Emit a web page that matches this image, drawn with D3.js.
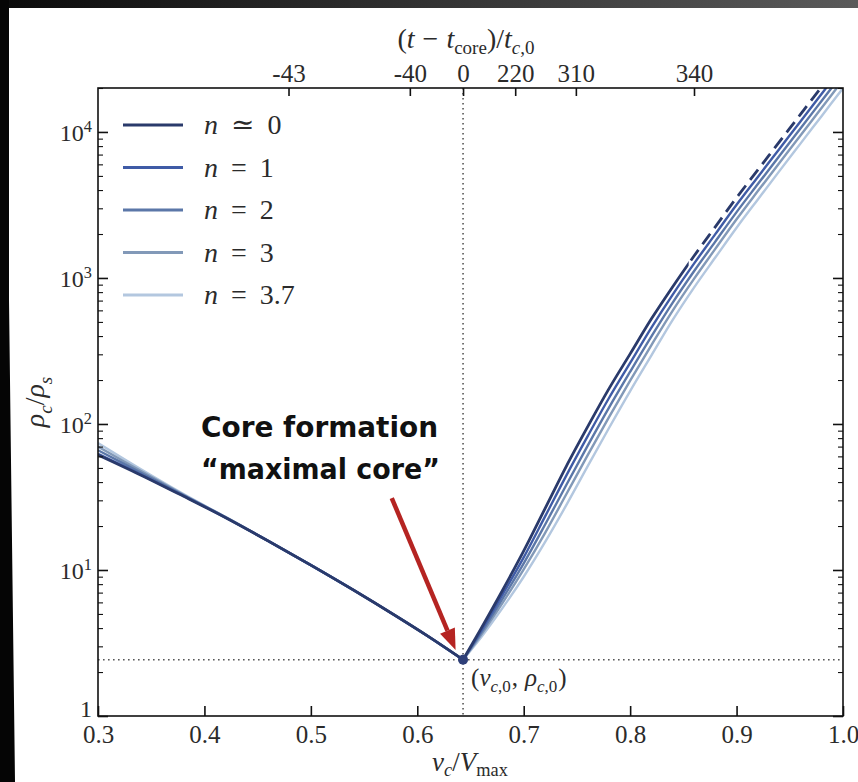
<!DOCTYPE html>
<html>
<head>
<meta charset="utf-8">
<script src="https://cdn.jsdelivr.net/npm/d3@7"></script>
<style>
  html, body { margin: 0; padding: 0; background: #fff; }
  svg { display: block; }
</style>
</head>
<body>
<svg id="chart" width="858" height="782"></svg>
<script>
// ---- data -------------------------------------------------------------
// core velocity v_c / V_max (left branch, core point, right branch)
const vGrid = [0.30, 0.34, 0.38, 0.42, 0.46, 0.50, 0.54, 0.58, 0.61, 0.643,
               0.66, 0.68, 0.70, 0.72, 0.74, 0.76, 0.78, 0.80, 0.82, 0.84,
               0.86, 0.88, 0.90, 0.92, 0.94, 0.96, 0.98, 1.00];

// central density rho_c / rho_s for each index n
const rhoN0  = [61.4, 44.8, 32.1, 22.8, 15.8, 10.8, 7.29, 4.84, 3.52, 2.43,
                3.98, 7.24, 13.5, 26.3, 51.3, 95.5, 174, 302, 525, 871,
                1413, 2239, 3548, 5495, 8511, 13183, 20417, 31623];
const rhoN1  = [62.5, 45.2, 32.3, 22.8, 15.8, 10.8, 7.29, 4.84, 3.52, 2.43,
                3.85, 6.78, 12.2, 23.2, 44.3, 82.2, 150, 262, 457, 769,
                1253, 1995, 3170, 4920, 7620, 11800, 18280, 28310];
const rhoN2  = [66.1, 46.5, 32.6, 22.9, 15.8, 10.8, 7.29, 4.84, 3.52, 2.43,
                3.72, 6.34, 11.1, 20.4, 38.2, 70.8, 129, 228, 398, 678,
                1112, 1774, 2825, 4395, 6823, 10570, 16370, 25350];
const rhoN3  = [70.0, 47.8, 32.9, 23.0, 15.8, 10.8, 7.29, 4.84, 3.52, 2.43,
                3.60, 5.93, 10.1, 17.9, 33.0, 61.0, 111, 198, 347, 598,
                986, 1581, 2523, 3936, 6109, 9462, 14660, 22700];
const rhoN37 = [74.0, 49.1, 33.2, 23.0, 15.8, 10.8, 7.29, 4.84, 3.52, 2.43,
                3.46, 5.48, 8.99, 15.5, 27.8, 51.2, 93.5, 168, 295, 516,
                859, 1380, 2208, 3451, 5370, 8318, 12880, 19950];

const seriesLabels = ["≃ 0", "= 1", "= 2", "= 3", "= 3.7"];
const seriesColors = ["#2a3a6b", "#3f5ba6", "#5b77a8", "#8299b8", "#b3c7df"];

// core-formation point
const coreV = 0.643;
const coreRho = 2.43;
// beyond this velocity the n ≃ 0 track is drawn dashed
const dashFromV = 0.855;

// axes
const xTicks = [0.3, 0.4, 0.5, 0.6, 0.7, 0.8, 0.9, 1.0];
const xTickLabels = ["0.3", "0.4", "0.5", "0.6", "0.7", "0.8", "0.9", "1.0"];
const topTickV = [0.479, 0.593, 0.643, 0.692, 0.749, 0.860];
const topTickLabels = ["-43", "-40", "0", "220", "310", "340"];
const yMajorTicks = [1, 10, 100, 1000, 10000];
const yTickExponents = ["0", "1", "2", "3", "4"];
const yDomain = [1, 20000];

// annotation arrow, in data coordinates [v, rho]
const arrowFrom = [0.576, 31.1];
const arrowTo = [0.636, 2.83];

// ---- layout -----------------------------------------------------------
const svg = d3.select("#chart");
const W = 858, H = 782;
const plot = { left: 98, right: 843, top: 88, bottom: 716 };
const serif = "'Liberation Serif', 'DejaVu Serif', serif";
const ink = "#2b2b2b";

const x = d3.scaleLinear().domain([0.3, 1.0]).range([plot.left, plot.right]);
const y = d3.scaleLog().domain(yDomain).range([plot.bottom, plot.top]);

// screen frame around the slide
const defs = svg.append("defs");
const grad = defs.append("linearGradient").attr("id", "topband")
  .attr("x1", "0").attr("x2", "1").attr("y1", "0").attr("y2", "0");
grad.append("stop").attr("offset", "0").attr("stop-color", "#0b0b0b");
grad.append("stop").attr("offset", "1").attr("stop-color", "#5a5a5a");
svg.append("rect").attr("x", 0).attr("y", 0).attr("width", W).attr("height", H).attr("fill", "#fff");
svg.append("rect").attr("x", 0).attr("y", 0).attr("width", W).attr("height", 8).attr("fill", "url(#topband)");
svg.append("path").attr("d", "M0,0 L9,0 L9,300 L15,782 L0,782 Z").attr("fill", "#050505");

defs.append("clipPath").attr("id", "plotclip").append("rect")
  .attr("x", plot.left).attr("y", plot.top)
  .attr("width", plot.right - plot.left).attr("height", plot.bottom - plot.top);

// rich text helper: parts = [{t, i (italic), sub, sup, dx}]
function rich(textSel, parts, size, subShift = 0.28) {
  let off = 0;
  parts.forEach(p => {
    const ts = textSel.append("tspan").text(p.t);
    if (p.i) ts.attr("font-style", "italic");
    let target = 0;
    if (p.sub) { target = size * subShift; ts.attr("font-size", size * 0.68); }
    if (p.sup) { target = -size * 0.4; ts.attr("font-size", size * 0.68); }
    if (target !== off) { ts.attr("dy", target - off); off = target; }
    if (p.dx) ts.attr("dx", p.dx);
  });
}

// ---- reference lines --------------------------------------------------
const dotted = { stroke: "#555", width: 1.6, dash: "1.6,3.4" };
svg.append("line")
  .attr("x1", x(coreV)).attr("x2", x(coreV))
  .attr("y1", plot.top).attr("y2", plot.bottom)
  .attr("stroke", dotted.stroke).attr("stroke-width", dotted.width)
  .attr("stroke-dasharray", dotted.dash);
svg.append("line")
  .attr("x1", plot.left).attr("x2", plot.right)
  .attr("y1", y(coreRho)).attr("y2", y(coreRho))
  .attr("stroke", dotted.stroke).attr("stroke-width", dotted.width)
  .attr("stroke-dasharray", dotted.dash);

// ---- curves -----------------------------------------------------------
const allRho = [rhoN0, rhoN1, rhoN2, rhoN3, rhoN37];
const line = d3.line().x(d => x(d.v)).y(d => y(d.r)).curve(d3.curveCatmullRom.alpha(0.5));
const gCurves = svg.append("g").attr("clip-path", "url(#plotclip)");

defs.append("clipPath").attr("id", "dashclip").append("rect")
  .attr("x", x(dashFromV)).attr("y", plot.top)
  .attr("width", plot.right - x(dashFromV)).attr("height", plot.bottom - plot.top);
defs.append("clipPath").attr("id", "solidclip").append("rect")
  .attr("x", plot.left).attr("y", plot.top)
  .attr("width", x(dashFromV) - plot.left).attr("height", plot.bottom - plot.top);

// lightest first so the darker tracks sit on top
for (let s = allRho.length - 1; s >= 0; s--) {
  const pts = vGrid.map((v, i) => ({ v, r: allRho[s][i] }));
  const left = pts.filter(d => d.v <= coreV);
  const right = pts.filter(d => d.v >= coreV);
  const sw = s === 0 ? 2.8 : 2.4;
  const draw = (data, clip, dash) => {
    const p = gCurves.append("path").attr("d", line(data))
      .attr("fill", "none").attr("stroke", seriesColors[s]).attr("stroke-width", sw);
    if (clip) p.attr("clip-path", `url(#${clip})`);
    if (dash) p.attr("stroke-dasharray", dash);
  };
  draw(left);
  if (s === 0) {
    // solid up to the dash point, dashed beyond it
    draw(right, "solidclip");
    draw(right, "dashclip", "13,7");
  } else {
    draw(right);
  }
}

// core point
svg.append("circle").attr("cx", x(coreV)).attr("cy", y(coreRho)).attr("r", 5)
  .attr("fill", "#2e3f78");

// ---- axes -------------------------------------------------------------
function styleAxis(g, size) {
  g.attr("font-family", null).attr("font-size", null);
  g.select(".domain").remove();
  g.selectAll(".tick line").attr("stroke", "#111").attr("stroke-width", 1.6);
  g.selectAll(".tick text").attr("fill", ink)
    .style("font-family", serif).style("font-size", size + "px");
}

// bottom
const gB = svg.append("g").attr("transform", `translate(0,${plot.bottom})`)
  .call(d3.axisBottom(x).tickValues(xTicks).tickSizeInner(-10).tickSizeOuter(0)
    .tickPadding(9).tickFormat((d, i) => xTickLabels[i]));
styleAxis(gB, 25);

// top (time since core formation)
const gT = svg.append("g").attr("transform", `translate(0,${plot.top})`)
  .call(d3.axisTop(x).tickValues(topTickV).tickSizeInner(-8).tickSizeOuter(0)
    .tickPadding(6).tickFormat((d, i) => topTickLabels[i]));
styleAxis(gT, 25);

// left major + minor
const minorTicks = [];
[1, 10, 100, 1000].forEach(dec => {
  for (let k = 2; k <= 9; k++) minorTicks.push(dec * k);
});
minorTicks.push(20000);
const gL = svg.append("g").attr("transform", `translate(${plot.left},0)`)
  .call(d3.axisLeft(y).tickValues(yMajorTicks).tickSizeInner(-10).tickSizeOuter(0)
    .tickPadding(6).tickFormat(() => ""));
styleAxis(gL, 24);
gL.selectAll(".tick text").each(function (d, i) {
  const t = d3.select(this);
  if (yTickExponents[i] === "0") {
    t.attr("dy", "0em").text("1");
  } else {
    t.attr("dy", "0.36em");
    rich(t, [{ t: "10" }, { t: yTickExponents[i], sup: true }], 24);
  }
});
const gLm = svg.append("g").attr("transform", `translate(${plot.left},0)`)
  .call(d3.axisLeft(y).tickValues(minorTicks).tickSizeInner(-5).tickSizeOuter(0).tickFormat(""));
styleAxis(gLm, 10);
gLm.selectAll(".tick line").attr("stroke-width", 1.1);

// right major + minor (no labels)
const gR = svg.append("g").attr("transform", `translate(${plot.right},0)`)
  .call(d3.axisRight(y).tickValues(yMajorTicks).tickSizeInner(-10).tickSizeOuter(0).tickFormat(""));
styleAxis(gR, 10);
const gRm = svg.append("g").attr("transform", `translate(${plot.right},0)`)
  .call(d3.axisRight(y).tickValues(minorTicks).tickSizeInner(-5).tickSizeOuter(0).tickFormat(""));
styleAxis(gRm, 10);
gRm.selectAll(".tick line").attr("stroke-width", 1.1);

// frame
svg.append("rect").attr("x", plot.left).attr("y", plot.top)
  .attr("width", plot.right - plot.left).attr("height", plot.bottom - plot.top)
  .attr("fill", "none").attr("stroke", "#111").attr("stroke-width", 1.6);

// ---- axis titles ------------------------------------------------------
const tTop = svg.append("text").attr("x", 466).attr("y", 48)
  .attr("text-anchor", "middle").attr("font-family", serif).attr("font-size", 28).attr("fill", ink);
rich(tTop, [{ t: "(" }, { t: "t", i: true }, { t: "−", dx: 8 }, { t: "t", i: true, dx: 8 },
  { t: "core", sub: true }, { t: ")/" }, { t: "t", i: true }, { t: "c", i: true, sub: true },
  { t: ",0", sub: true }], 28, 0.2);

const tBot = svg.append("text").attr("x", 470).attr("y", 771)
  .attr("text-anchor", "middle").attr("font-family", serif).attr("font-size", 27).attr("fill", ink);
rich(tBot, [{ t: "v", i: true }, { t: "c", i: true, sub: true }, { t: "/" },
  { t: "V", i: true }, { t: "max", sub: true }], 27, 0.2);

const tLeft = svg.append("text").attr("transform", `translate(44,${(plot.top + plot.bottom) / 2}) rotate(-90)`)
  .attr("text-anchor", "middle").attr("font-family", serif).attr("font-size", 28).attr("fill", ink);
rich(tLeft, [{ t: "ρ", i: true }, { t: "c", i: true, sub: true }, { t: "/" },
  { t: "ρ", i: true }, { t: "s", i: true, sub: true }], 28);

// core point label
const tCore = svg.append("text").attr("x", x(coreV) + 8).attr("y", y(coreRho) + 26)
  .attr("font-family", serif).attr("font-size", 25).attr("fill", ink);
rich(tCore, [{ t: "(" }, { t: "v", i: true }, { t: "c", i: true, sub: true }, { t: ",0", sub: true },
  { t: ",", dx: 1 }, { t: "ρ", i: true, dx: 7 }, { t: "c", i: true, sub: true }, { t: ",0", sub: true },
  { t: ")", dx: 1 }], 25, 0.24);

// ---- legend -----------------------------------------------------------
const legend = svg.append("g").attr("transform", "translate(123,125)");
seriesLabels.forEach((lab, i) => {
  const row = legend.append("g").attr("transform", `translate(0,${i * 42.5})`);
  row.append("line").attr("x1", 0).attr("x2", 60).attr("y1", 0).attr("y2", 0)
    .attr("stroke", seriesColors[i]).attr("stroke-width", 3);
  const t = row.append("text").attr("x", 81).attr("y", 9)
    .attr("font-family", serif).attr("font-size", 28).attr("fill", ink);
  const [op, num] = lab.split(" ");
  t.append("tspan").attr("font-style", "italic").text("n");
  t.append("tspan").attr("dx", 13).text(op);
  t.append("tspan").attr("dx", 13).text(num);
});

// ---- annotation -------------------------------------------------------
const annFont = "'DejaVu Sans', sans-serif";
svg.append("text").attr("x", 201).attr("y", 437)
  .attr("font-family", annFont).attr("font-weight", 700).attr("font-size", 28).attr("fill", "#111")
  .attr("textLength", 237).attr("lengthAdjust", "spacingAndGlyphs").text("Core formation");
svg.append("text").attr("x", 201).attr("y", 479)
  .attr("font-family", annFont).attr("font-weight", 700).attr("font-size", 28).attr("fill", "#111")
  .attr("textLength", 239).attr("lengthAdjust", "spacingAndGlyphs").text("“maximal core”");

const ax0 = x(arrowFrom[0]), ay0 = y(arrowFrom[1]);
const ax1 = x(arrowTo[0]), ay1 = y(arrowTo[1]);
const ang = Math.atan2(ay1 - ay0, ax1 - ax0);
const headL = 21, headW = 8;
const bx = ax1 - headL * Math.cos(ang), by = ay1 - headL * Math.sin(ang);
const red = "#b52422";
svg.append("line").attr("x1", ax0).attr("y1", ay0).attr("x2", bx).attr("y2", by)
  .attr("stroke", red).attr("stroke-width", 4.5);
svg.append("path")
  .attr("d", `M${ax1},${ay1} L${bx + headW * Math.sin(ang)},${by - headW * Math.cos(ang)} L${bx - headW * Math.sin(ang)},${by + headW * Math.cos(ang)} Z`)
  .attr("fill", red);
</script>
</body>
</html>
